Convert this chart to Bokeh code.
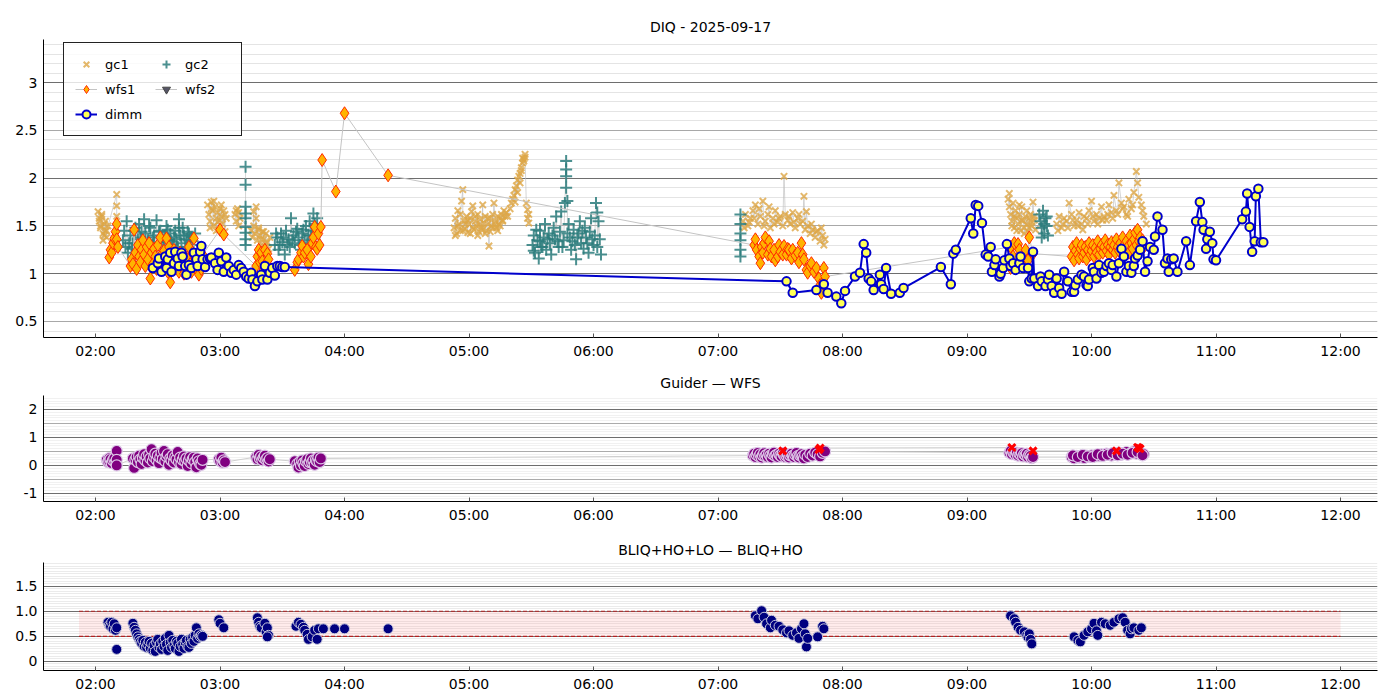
import numpy as np
from bokeh.plotting import figure
from bokeh.models import (Range1d, FixedTicker, DatetimeTickFormatter, CustomJSTickFormatter,
                          Grid, SingleIntervalTicker, Legend, LegendItem)
from bokeh.layouts import column
from bokeh.embed import file_html
from bokeh.resources import INLINE

DATE = "2025-09-17"
FONT = "DejaVu Sans"

# ---------------- DIQ (top) : times in hours UT, values in arcsec ----------------
gc1_t = [2.02,2.03,2.04,2.05,2.06,2.07,2.08,2.09,2.10,2.03,2.05,2.07,2.09,2.04,2.06,2.08,2.17,2.17,2.17,
         2.90,2.91,2.92,2.93,2.94,2.95,2.96,2.97,2.98,2.99,3.00,3.01,3.02,3.03,3.04,3.05,2.92,2.95,2.98,3.01,3.04,2.93,2.97,3.00,
         3.12,3.13,3.14,3.15,3.16,3.13,3.15,
         3.25,3.26,3.27,3.28,3.29,3.30,3.31,3.32,3.33,3.34,3.35,3.36,3.37,3.38,3.39,3.40,3.27,3.29,3.31,3.33,3.35,3.37,
         4.88,4.89,4.90,4.91,4.92,4.93,4.94,4.95,4.96,4.97,4.98,4.99,5.00,5.01,5.02,5.03,5.04,5.05,5.06,5.07,
         5.08,5.09,5.10,5.11,5.12,5.13,5.14,5.15,5.16,5.17,5.18,5.19,5.20,5.21,5.22,5.23,5.24,5.25,5.26,5.27,5.28,5.29,
         4.89,4.91,4.93,4.95,4.97,4.99,5.01,5.03,5.05,5.07,5.09,5.11,5.13,5.15,5.17,5.19,5.21,5.23,5.25,5.27,
         5.30,5.31,5.33,5.34,5.35,5.36,5.37,5.37,5.38,5.39,5.39,5.40,5.41,5.41,5.42,5.42,5.43,5.43,5.44,5.44,5.45,5.45,
         5.46,5.47,5.47,5.48,5.48,
         7.20,7.22,7.24,7.26,7.28,7.30,7.32,7.34,7.36,7.38,7.40,7.42,7.44,7.46,7.48,7.50,7.52,7.54,7.56,7.58,
         7.60,7.62,7.64,7.66,7.68,7.70,7.72,7.74,7.76,7.78,7.80,7.82,7.84,7.86,
         7.21,7.25,7.29,7.33,7.37,7.41,7.45,7.49,7.53,7.57,7.61,7.65,7.69,7.71,7.75,7.79,7.83,7.85,
         9.33,9.34,9.35,9.36,9.37,9.38,9.39,9.40,9.41,9.42,9.43,9.44,9.45,9.46,9.47,9.48,9.49,9.50,9.51,9.52,9.53,9.54,9.55,
         9.34,9.36,9.38,9.40,9.42,9.44,9.46,9.48,9.50,9.52,9.54,
         9.72,9.74,9.76,9.78,9.80,9.82,9.84,9.86,9.88,9.90,9.92,9.94,9.96,9.98,10.00,10.02,10.04,10.06,10.08,10.10,
         10.12,10.14,10.16,10.18,10.20,10.22,10.24,10.26,10.28,10.30,10.32,10.34,10.36,10.38,10.40,10.42,10.44,
         9.73,9.77,9.81,9.85,9.89,9.93,9.97,10.01,10.05,10.09,10.13,10.17,10.21,10.25,10.29,10.33,10.37,10.41]
gc1_v = [1.65,1.55,1.48,1.60,1.42,1.52,1.45,1.38,1.50,1.58,1.62,1.40,1.45,1.50,1.35,1.55,1.83,1.71,1.60,
         1.72,1.62,1.55,1.75,1.66,1.50,1.70,1.58,1.64,1.46,1.68,1.60,1.52,1.66,1.44,1.58,1.48,1.76,1.54,1.72,1.62,1.68,1.45,1.56,
         1.62,1.55,1.68,1.50,1.58,1.66,1.64,
         1.45,1.38,1.65,1.42,1.70,1.35,1.48,1.40,1.30,1.44,1.36,1.28,1.42,1.33,1.26,1.38,1.50,1.58,1.46,1.36,1.44,1.32,
         1.48,1.58,1.42,1.66,1.52,1.45,1.76,1.88,1.55,1.47,1.60,1.43,1.52,1.58,1.65,1.71,1.46,1.55,1.50,1.62,
         1.44,1.57,1.48,1.72,1.53,1.60,1.45,1.52,1.29,1.58,1.50,1.62,1.74,1.55,1.48,1.60,1.52,1.58,1.62,1.55,1.66,1.60,
         1.40,1.50,1.62,1.45,1.52,1.56,1.42,1.48,1.60,1.40,1.52,1.46,1.42,1.58,1.44,1.48,1.52,1.45,1.50,1.56,
         1.64,1.60,1.68,1.74,1.78,1.82,1.88,1.75,1.92,1.98,1.85,2.02,2.05,1.95,2.08,2.11,2.16,2.21,2.18,2.20,2.25,2.22,
         1.74,1.67,1.58,1.53,1.62,
         1.55,1.62,1.50,1.58,1.66,1.72,1.52,1.60,1.76,1.55,1.62,1.48,1.58,1.66,1.54,1.60,1.50,1.62,1.56,1.52,
         1.64,1.48,1.58,1.52,1.55,1.46,1.50,1.42,1.46,1.38,1.45,1.34,1.40,1.36,
         1.48,1.54,1.58,1.68,1.50,1.70,1.52,1.58,2.02,1.60,1.54,1.62,1.81,1.65,1.52,1.44,1.48,1.30,
         1.78,1.70,1.62,1.55,1.74,1.48,1.66,1.58,1.52,1.62,1.45,1.70,1.55,1.48,1.60,1.52,1.44,1.58,1.62,1.50,1.75,1.56,1.46,
         1.84,1.50,1.60,1.45,1.72,1.56,1.42,1.66,1.48,1.54,1.60,
         1.52,1.60,1.48,1.58,1.55,1.74,1.62,1.50,1.56,1.64,1.52,1.60,1.58,1.66,1.76,1.55,1.62,1.58,1.70,1.60,
         1.56,1.72,1.64,1.82,1.66,1.95,1.74,1.70,1.62,1.78,1.68,1.85,2.07,1.80,1.72,1.60,1.52,
         1.45,1.52,1.48,1.56,1.50,1.46,1.52,1.60,1.52,1.56,1.62,1.58,1.62,1.68,1.60,1.72,1.95,1.66]

gc2_t = [2.22,2.24,2.25,2.26,2.28,2.30,2.31,2.33,2.35,2.36,2.38,2.39,2.40,2.42,2.44,2.45,2.47,2.49,2.50,2.52,
         2.54,2.55,2.57,2.59,2.60,2.62,2.64,2.65,2.67,2.67,2.69,2.71,2.72,2.74,2.76,2.77,2.79,2.80,
         2.23,2.27,2.29,2.32,2.34,2.37,2.41,2.43,2.46,2.48,2.51,2.53,2.56,2.58,2.61,2.63,2.66,2.68,2.70,2.73,2.75,2.78,
         3.205,3.205,3.205,3.205,3.205,3.205,3.205,3.205,3.205,
         3.44,3.46,3.47,3.49,3.50,3.52,3.53,3.55,3.56,3.57,3.59,3.60,3.62,3.63,3.65,3.66,3.68,3.69,3.71,3.72,
         3.74,3.75,3.77,3.78,
         3.45,3.48,3.51,3.54,3.58,3.61,3.64,3.67,3.70,3.73,3.76,
         5.51,5.52,5.53,5.55,5.56,5.57,5.58,5.60,5.61,5.62,5.64,5.65,5.66,5.68,5.69,5.70,5.72,5.73,5.74,5.76,
         5.77,5.78,5.78,5.78,5.78,5.79,5.80,5.81,5.82,5.84,5.85,5.86,5.88,5.89,5.90,5.92,5.93,5.94,5.96,5.97,
         5.98,6.00,6.01,6.02,6.03,6.04,6.05,6.06,
         5.52,5.54,5.57,5.59,5.63,5.67,5.71,5.75,5.79,5.83,5.87,5.91,5.95,5.99,6.03,
         7.18,7.18,7.18,7.18,7.18,7.18,
         9.58,9.59,9.60,9.61,9.62,9.63,9.64,9.65,9.60,9.62,9.64]
gc2_v = [1.35,1.28,1.55,1.22,1.40,1.32,1.45,1.25,1.52,1.38,1.30,1.57,1.42,1.35,1.48,1.28,1.40,1.56,1.33,1.45,
         1.38,1.27,1.50,1.35,1.42,1.30,1.45,1.36,1.57,1.48,1.32,1.40,1.28,1.44,1.35,1.38,1.30,1.42,
         1.45,1.32,1.26,1.48,1.36,1.44,1.30,1.50,1.38,1.26,1.44,1.30,1.40,1.46,1.34,1.38,1.28,1.40,1.48,1.36,1.42,1.34,
         2.12,1.93,1.70,1.63,1.58,1.49,1.43,1.36,1.30,
         1.30,1.38,1.25,1.42,1.33,1.20,1.45,1.36,1.28,1.58,1.40,1.32,1.47,1.38,1.25,1.42,1.35,1.50,1.40,1.55,
         1.45,1.63,1.48,1.58,
         1.42,1.30,1.38,1.30,1.35,1.44,1.30,1.46,1.32,1.40,1.52,
         1.30,1.40,1.22,1.35,1.16,1.45,1.28,1.38,1.52,1.25,1.42,1.32,1.20,1.48,1.36,1.60,1.28,1.44,1.65,1.35,
         1.74,2.18,2.09,2.02,1.90,1.76,1.52,1.38,1.25,1.46,1.30,1.15,1.42,1.55,1.32,1.26,1.48,1.38,1.22,1.44,
         1.58,1.30,1.40,1.74,1.64,1.55,1.36,1.20,
         1.24,1.46,1.34,1.28,1.36,1.40,1.34,1.28,1.42,1.34,1.38,1.45,1.32,1.36,1.28,
         1.62,1.52,1.42,1.35,1.25,1.18,
         1.62,1.55,1.48,1.66,1.42,1.58,1.50,1.40,1.38,1.52,1.60]

wfs1_t = [2.11,2.12,2.13,2.14,2.15,2.16,2.17,2.17,2.18,
          2.28,2.29,2.30,2.31,2.32,2.33,2.34,2.35,2.36,2.37,2.38,2.39,2.40,2.41,2.42,2.43,2.44,2.45,2.46,2.47,
          2.48,2.49,2.50,2.51,2.52,2.53,2.54,2.55,2.56,2.57,2.58,2.59,2.60,2.61,2.62,2.63,2.64,2.65,2.66,2.67,
          2.68,2.69,2.70,2.71,2.72,2.73,2.74,2.75,2.76,2.77,2.78,2.79,2.80,2.81,2.82,2.83,2.84,2.85,2.86,
          3.00,3.03,
          3.29,3.30,3.31,3.32,3.33,3.34,3.35,3.36,3.37,3.38,3.39,3.40,
          3.60,3.62,3.63,3.65,3.66,3.67,3.68,3.70,3.71,3.73,3.74,3.75,3.76,3.77,3.78,3.79,3.80,3.81,
          3.82,3.93,4.00,4.35,
          7.29,7.30,7.31,7.33,7.34,7.35,7.36,7.37,7.38,7.40,7.41,7.42,7.43,7.45,7.46,7.48,7.49,7.50,7.52,7.53,
          7.55,7.56,7.57,7.59,7.60,7.62,7.64,7.65,7.67,7.68,7.69,7.71,7.72,7.74,7.75,7.77,7.79,7.81,7.82,7.83,
          7.84,7.85,7.86,
          9.35,9.35,9.37,9.38,9.39,9.41,9.42,9.44,9.45,9.46,9.47,9.49,9.50,9.53,
          9.84,9.85,9.86,9.87,9.88,9.89,9.90,9.91,9.92,9.93,9.94,9.95,9.96,9.97,9.98,9.99,10.00,10.01,10.02,10.03,
          10.04,10.05,10.06,10.07,10.08,10.09,10.10,10.11,10.12,10.13,10.14,10.15,10.16,10.17,10.18,10.19,10.20,
          10.21,10.22,10.23,10.24,10.25,10.26,10.27,10.28,10.29,10.30,10.31,10.32,10.33,10.34,10.35,10.36,10.37,
          10.38,10.39,10.40,10.41,10.42]
wfs1_v = [1.17,1.25,1.22,1.32,1.37,1.44,1.52,1.36,1.28,
          1.08,1.15,1.10,1.46,1.22,1.05,1.30,1.18,1.12,1.25,1.35,1.20,1.08,1.28,1.15,1.32,0.95,1.22,1.10,1.26,
          1.18,1.05,1.30,1.12,1.38,1.20,1.08,1.24,1.15,1.37,1.02,1.28,0.91,1.18,1.10,1.25,1.06,1.20,1.14,1.02,
          1.22,1.08,1.12,1.00,1.18,1.05,1.15,1.28,1.10,1.02,1.22,1.37,1.08,1.15,1.03,0.99,1.12,1.05,1.20,
          1.46,1.41,
          1.08,1.18,1.25,1.12,1.22,1.13,1.04,1.25,1.11,1.21,1.15,1.02,
          1.04,1.12,1.15,1.22,1.29,1.18,1.22,1.25,1.10,1.18,1.32,1.38,1.49,1.28,1.26,1.42,1.30,1.49,
          2.19,1.86,2.68,2.03,
          1.30,1.36,1.25,1.18,1.11,1.28,1.22,1.32,1.38,1.20,1.34,1.26,1.18,1.25,1.14,1.18,1.30,1.23,1.20,1.29,
          1.20,1.26,1.25,1.16,1.25,1.19,1.22,1.12,1.32,1.20,1.15,1.04,1.01,1.08,1.11,1.02,1.06,0.95,0.88,0.80,
          0.90,1.06,0.97,
          1.28,1.06,1.18,1.32,1.08,1.31,1.25,1.15,1.18,1.11,1.25,1.14,1.38,1.21,
          1.18,1.28,1.14,1.24,1.32,1.20,1.16,1.26,1.30,1.18,1.22,1.28,1.15,1.25,1.32,1.20,1.24,1.30,1.18,1.27,
          1.22,1.34,1.20,1.26,1.30,1.22,1.28,1.35,1.24,1.30,1.20,1.28,1.33,1.25,1.30,1.22,1.36,
          1.28,1.24,1.32,1.26,1.38,1.30,1.25,1.34,1.28,1.22,1.40,1.32,1.26,1.36,1.43,1.30,1.46,
          1.34,1.38,1.30,1.35,1.28]

# wfs2 has no valid measurement this night (legend entry only)
wfs2_t = [2.0]
wfs2_v = [float("nan")]

dimm_t = [2.46,2.50,2.51,2.53,2.56,2.57,2.58,2.60,2.61,2.63,2.64,2.66,2.67,2.69,2.70,2.72,2.73,2.75,2.77,2.79,
          2.81,2.82,2.84,2.85,2.86,2.88,2.90,2.92,2.93,2.96,2.98,2.99,3.01,3.03,3.05,3.07,3.09,3.11,3.13,3.15,
          3.17,3.19,3.21,3.23,3.25,3.26,3.28,3.30,3.33,3.34,3.36,3.38,3.40,3.42,3.44,3.46,3.48,3.50,3.52,
          7.55,7.60,7.79,7.85,7.88,7.95,7.99,8.02,8.10,8.14,8.17,8.19,8.21,8.23,8.25,8.30,8.31,8.33,8.35,8.39,
          8.46,8.49,8.79,8.87,8.89,8.91,
          9.03,9.05,9.07,9.09,9.12,9.15,9.17,9.19,9.20,9.22,9.23,9.26,9.27,9.29,9.30,9.32,9.34,9.35,9.37,9.39,
          9.42,9.43,9.45,9.49,9.50,9.52,9.53,9.54,9.57,9.59,9.60,9.63,9.65,9.66,9.68,9.70,9.72,9.74,9.76,9.78,
          9.81,9.84,9.86,9.87,9.89,9.92,9.94,9.96,9.97,9.98,10.01,10.02,10.04,10.06,10.08,10.10,10.12,10.14,10.16,10.17,
          10.20,10.22,10.24,10.26,10.28,10.30,10.32,10.34,10.35,10.37,10.39,10.41,10.43,10.45,10.47,10.50,10.51,10.53,
          10.57,10.59,10.61,10.62,10.64,10.66,10.69,10.76,10.79,
          10.84,10.87,10.89,10.90,10.92,10.93,10.95,10.97,10.98,11.00,
          11.21,11.24,11.25,11.27,11.29,11.31,11.32,11.34,11.36,11.38]
dimm_v = [1.06,1.11,1.16,1.02,1.18,1.06,1.15,1.22,1.02,1.11,1.23,1.16,1.08,1.22,1.18,1.08,0.99,1.09,1.06,1.22,
          1.15,1.08,1.23,1.29,1.15,1.07,1.15,1.16,1.17,1.11,1.04,1.22,1.13,1.02,1.17,1.08,1.01,1.04,0.99,1.09,
          1.06,1.02,0.97,0.95,1.01,0.94,0.87,0.92,0.99,0.94,1.08,0.94,1.01,1.06,0.98,1.08,1.08,1.07,1.07,
          0.92,0.80,0.83,0.89,0.80,0.76,0.69,0.82,0.97,1.01,1.31,1.22,0.95,0.92,0.83,0.99,0.89,0.84,1.06,0.79,
          0.80,0.85,1.07,0.89,1.21,1.25,
          1.58,1.42,1.72,1.71,1.53,1.20,1.18,1.28,1.02,1.09,1.15,0.97,1.00,1.06,1.14,1.31,1.16,1.08,1.11,1.04,
          1.11,1.18,1.06,1.06,0.92,0.95,1.23,0.95,0.87,0.97,0.92,0.87,0.94,0.99,0.87,0.80,0.95,0.85,0.79,1.02,
          0.92,0.81,0.81,0.88,0.94,0.99,0.97,0.88,0.87,0.94,1.06,1.02,0.95,1.09,1.01,1.02,1.08,1.11,1.04,1.09,
          0.97,1.11,1.26,1.18,1.02,1.08,1.01,1.08,1.16,1.19,1.25,1.34,1.02,1.13,1.28,1.25,1.39,1.60,
          1.46,1.11,1.16,1.02,1.15,1.16,1.02,1.34,1.09,
          1.55,1.75,1.54,1.46,1.26,1.36,1.44,1.32,1.15,1.14,
          1.57,1.65,1.84,1.49,1.23,1.34,1.81,1.89,1.33,1.33]

# ---------------- Guider - WFS (middle) ----------------
gw_t = [2.09,2.10,2.11,2.11,2.12,2.13,2.14,2.15,2.16,2.17,2.17,2.17,
        2.30,2.31,2.32,2.33,2.34,2.35,2.36,2.37,2.38,2.39,2.40,2.41,2.42,2.43,2.44,2.45,2.46,2.47,2.48,2.49,
        2.50,2.51,2.52,2.53,2.54,2.55,2.56,2.57,2.58,2.59,2.60,2.61,2.62,2.63,2.64,2.65,2.66,2.67,2.68,2.69,
        2.70,2.71,2.72,2.73,2.74,2.75,2.76,2.77,2.78,2.79,2.80,2.81,2.82,2.83,2.84,2.85,2.86,
        2.99,3.00,3.01,3.02,3.03,3.04,
        3.29,3.30,3.31,3.32,3.33,3.34,3.35,3.36,3.37,3.38,3.39,3.40,
        3.60,3.62,3.63,3.64,3.65,3.66,3.67,3.68,3.69,3.70,3.71,3.72,3.73,3.74,3.75,3.76,3.77,3.78,3.79,3.80,3.81,
        7.28,7.29,7.30,7.31,7.32,7.33,7.34,7.35,7.36,7.37,7.38,7.39,7.40,7.41,7.42,7.43,7.44,7.45,7.46,7.47,
        7.48,7.49,7.50,7.51,7.52,7.53,7.54,7.55,7.56,7.57,7.58,7.59,7.60,7.61,7.62,7.63,7.64,7.65,7.66,7.67,
        7.68,7.69,7.70,7.72,7.74,7.76,7.78,7.80,7.82,7.84,7.86,
        9.34,9.35,9.36,9.37,9.38,9.39,9.40,9.41,9.42,9.43,9.44,9.45,9.46,9.47,9.48,9.49,9.50,9.51,9.52,9.53,
        9.84,9.86,9.88,9.90,9.92,9.94,9.96,9.98,10.00,10.02,10.04,10.06,10.08,10.10,10.12,10.14,10.16,10.18,10.20,10.22,
        10.24,10.26,10.28,10.30,10.32,10.34,10.36,10.38,10.40,10.42,
        9.85,9.89,9.93,9.97,10.01,10.05,10.09,10.13,10.17,10.21,10.25,10.29,10.33,10.37,10.41]
gw_v = [0.20,0.12,0.26,0.15,0.22,0.08,0.18,0.25,0.10,0.52,0.20,0.00,
        0.25,-0.09,0.20,0.30,0.12,0.35,0.22,0.05,0.28,0.40,0.18,0.32,0.10,0.38,0.25,0.58,0.15,0.30,0.42,0.20,
        0.35,0.08,0.28,0.45,0.22,0.52,0.15,0.32,0.40,0.02,0.25,0.18,0.35,0.10,0.30,0.22,0.48,0.12,0.28,0.05,
        0.20,0.32,0.15,0.25,-0.02,0.18,0.30,0.08,0.22,0.28,0.12,-0.07,0.25,0.15,0.05,0.02,0.20,
        0.22,0.15,0.28,0.10,0.18,0.12,
        0.30,0.22,0.38,0.25,0.32,0.18,0.28,0.35,0.20,0.26,0.14,0.22,
        0.15,0.05,-0.08,0.12,0.00,0.18,0.08,-0.02,0.15,0.22,0.05,0.12,0.25,0.10,0.18,0.02,0.20,0.15,0.28,0.12,0.25,
        0.35,0.42,0.30,0.38,0.45,0.32,0.40,0.28,0.36,0.44,0.33,0.38,0.30,0.42,0.35,0.28,0.40,0.46,0.34,0.38,
        0.30,0.42,0.36,0.32,0.44,0.38,0.30,0.35,0.40,0.28,0.36,0.42,0.34,0.30,0.38,0.45,0.33,0.28,0.36,0.40,
        0.32,0.25,0.38,0.30,0.42,0.35,0.46,0.40,0.32,0.45,0.50,
        0.45,0.52,0.40,0.48,0.42,0.38,0.46,0.35,0.42,0.38,0.44,0.32,0.40,0.36,0.42,0.30,0.38,0.34,0.26,0.30,
        0.30,0.25,0.34,0.28,0.32,0.26,0.35,0.30,0.36,0.32,0.38,0.34,0.40,0.36,0.42,0.38,0.35,0.44,0.40,0.46,
        0.38,0.42,0.48,0.40,0.44,0.50,0.42,0.46,0.44,0.40,
        0.36,0.30,0.38,0.32,0.30,0.40,0.34,0.38,0.44,0.36,0.42,0.38,0.45,0.48,0.36]
gw_flag_t = [7.52,7.81,7.82,9.36,9.53,10.20,10.37,10.38,10.39]
gw_flag_v = [0.52,0.56,0.62,0.64,0.52,0.52,0.65,0.62,0.60]

# ---------------- BLIQ+HO+LO - BLIQ+HO (bottom) ----------------
bl_t = [2.10,2.11,2.12,2.13,2.14,2.15,2.16,2.17,2.17,
        2.30,2.31,2.32,2.33,2.34,2.35,2.36,2.37,2.38,2.39,2.40,2.41,2.42,2.43,2.44,2.45,2.46,2.47,2.48,2.49,
        2.50,2.51,2.52,2.53,2.54,2.55,2.56,2.57,2.58,2.59,2.60,2.61,2.62,2.63,2.64,2.65,2.66,2.67,2.68,2.69,
        2.70,2.71,2.72,2.73,2.74,2.75,2.76,2.77,2.78,2.79,2.80,2.81,2.82,2.83,2.84,2.85,2.86,
        2.99,3.00,3.03,
        3.30,3.31,3.32,3.33,3.36,3.37,3.38,3.39,3.38,
        3.61,3.63,3.65,3.67,3.68,3.70,3.71,3.74,3.76,3.78,3.79,
        3.83,3.92,4.00,4.35,
        7.30,7.32,7.35,7.37,7.39,7.42,7.43,7.46,7.49,7.52,7.55,7.57,7.60,7.63,7.65,7.67,7.69,7.70,7.71,7.72,
        7.80,7.84,7.85,
        9.35,9.38,9.39,9.41,9.43,9.46,9.48,9.49,9.50,9.51,9.52,
        9.86,9.89,9.91,9.94,9.97,10.00,10.02,10.04,10.05,10.08,10.11,10.15,10.18,10.22,10.25,10.27,10.29,10.31,
        10.32,10.34,10.38,10.40]
bl_v = [0.78,0.72,0.70,0.78,0.65,0.75,0.62,0.67,0.24,
        0.76,0.68,0.62,0.55,0.49,0.44,0.40,0.36,0.42,0.30,0.38,0.28,0.34,0.40,0.26,0.36,0.22,0.32,0.20,0.38,
        0.44,0.28,0.35,0.24,0.40,0.30,0.46,0.34,0.22,0.52,0.38,0.28,0.42,0.32,0.26,0.40,0.36,0.20,0.30,0.44,
        0.34,0.26,0.38,0.42,0.30,0.28,0.44,0.36,0.48,0.40,0.52,0.67,0.46,0.55,0.50,0.52,0.50,
        0.83,0.76,0.67,
        0.87,0.78,0.70,0.67,0.76,0.59,0.67,0.52,0.49,
        0.70,0.78,0.74,0.68,0.62,0.54,0.44,0.49,0.62,0.44,0.65,
        0.65,0.65,0.65,0.65,
        0.91,0.85,1.01,0.88,0.75,0.67,0.82,0.72,0.70,0.63,0.57,0.61,0.52,0.57,0.46,0.65,0.75,0.55,0.29,0.46,
        0.49,0.70,0.65,
        0.91,0.85,0.78,0.68,0.62,0.59,0.52,0.48,0.55,0.44,0.35,
        0.49,0.42,0.39,0.52,0.59,0.65,0.76,0.61,0.52,0.78,0.75,0.72,0.78,0.85,0.87,0.78,0.62,0.55,
        0.65,0.67,0.62,0.67]
band_t = [1.867, 12.0]
band_lo = [0.5, 0.5]
band_hi = [1.0, 1.0]

hour_ticks = [2, 3, 4, 5, 6, 7, 8, 9, 10, 11, 12]
x_span = [1.582, 12.297]

# ---------------- helpers ----------------
BASE = np.datetime64(DATE + "T00:00:00", "ms")


def dt(hours):
    h = np.asarray(hours, dtype=float)
    return BASE + np.round(h * 3600000.0).astype("int64").astype("timedelta64[ms]")


def ms(hours):
    return [float(v) for v in dt(hours).astype("int64")]


def sort_xy(t, v):
    t = np.asarray(t, dtype=float)
    v = np.asarray(v, dtype=float)
    o = np.argsort(t, kind="stable")
    return t[o], v[o]


def broken(t, v, gap):
    t, v = sort_xy(t, v)
    tt, vv = [], []
    for i in range(len(t)):
        if i and t[i] - t[i - 1] > gap:
            tt.append(t[i - 1])
            vv.append(np.nan)
        tt.append(t[i])
        vv.append(v[i])
    return np.array(tt), np.array(vv)


def make_fig(title, height, y0, y1, top, bottom):
    p = figure(width=1391, height=height, x_axis_type="datetime",
               x_range=Range1d(*ms(x_span)), y_range=Range1d(y0, y1),
               output_backend="svg", toolbar_location=None,
               min_border_left=43, min_border_right=14, min_border_top=top, min_border_bottom=bottom)
    p.title.text = title
    p.title.align = "center"
    p.title.text_font = FONT
    p.title.text_font_size = "14px"
    p.title.text_font_style = "normal"
    p.title.text_color = "black"
    p.title.standoff = 10
    p.outline_line_color = None
    p.background_fill_color = "white"
    p.border_fill_color = "white"
    p.xgrid.visible = False
    p.ygrid.visible = False
    p.xaxis.ticker = FixedTicker(ticks=ms(hour_ticks))
    p.xaxis.formatter = DatetimeTickFormatter(hours="%H:%M", hourmin="%H:%M", minutes="%H:%M",
                                              days="%H:%M", minsec="%H:%M")
    for ax in (p.xaxis[0], p.yaxis[0]):
        ax.axis_line_color = "black"
        ax.axis_line_width = 1
        ax.major_label_text_font = FONT
        ax.major_label_text_font_size = "14px"
        ax.major_label_text_color = "black"
        ax.minor_tick_line_color = None
        ax.major_label_standoff = 5
    p.xaxis.major_tick_in = 4
    p.xaxis.major_tick_out = 0
    p.xaxis.major_tick_line_color = "#555555"
    p.yaxis.major_tick_in = 0
    p.yaxis.major_tick_out = 0
    p.yaxis.major_label_standoff = 6
    return p


def add_grids(p, specs):
    for interval, color in specs:
        g = Grid(dimension=1, ticker=SingleIntervalTicker(interval=interval, num_minor_ticks=0),
                 grid_line_color=color, grid_line_width=1)
        p.add_layout(g)


# ---------------- top figure ----------------
p1 = make_fig("DIQ - 2025-09-17", 363, 0.332, 3.452, 39, 26)
add_grids(p1, [(0.1, "#E4E4E4"), (0.5, "#A8A8A8"), (1.0, "#6E6E6E")])
p1.yaxis.ticker = SingleIntervalTicker(interval=0.5, num_minor_ticks=0)
p1.yaxis.formatter = CustomJSTickFormatter(code="return Number.isInteger(tick) ? tick.toFixed(0) : tick.toFixed(1);")

t, v = broken(gc1_t, gc1_v, 0.2)
p1.line(dt(t), v, line_color="#BDBDBD", line_width=0.8, line_alpha=0.8)
t, v = broken(gc2_t, gc2_v, 0.2)
p1.line(dt(t), v, line_color="#BDBDBD", line_width=0.8, line_alpha=0.8)
r_gc1 = p1.scatter(dt(gc1_t), gc1_v, marker="x", size=9, line_color="#DDA646", line_width=2, line_alpha=0.8)
r_gc2 = p1.scatter(dt(gc2_t), gc2_v, marker="cross", size=12, line_color="#2C7D7D", line_width=2, line_alpha=0.85)

t, v = sort_xy(wfs1_t, wfs1_v)
r_wl = p1.line(dt(t), v, line_color="#C4C4C4", line_width=1)
r_w = p1.scatter(dt(wfs1_t), wfs1_v, marker="diamond", size=13, fill_color="#FFB300",
                 line_color="#FF2A00", line_width=1)

r_w2l = p1.line(dt(wfs2_t), wfs2_v, line_color="#C4C4C4", line_width=1)
r_w2 = p1.scatter(dt(wfs2_t), wfs2_v, marker="inverted_triangle", size=10, fill_color="#555566",
                  line_color="#444444", line_width=1)

t, v = sort_xy(dimm_t, dimm_v)
r_dl = p1.line(dt(t), v, line_color="#0000CC", line_width=2)
r_d = p1.scatter(dt(dimm_t), dimm_v, marker="circle", size=8.5, fill_color="#FFFF55",
                 line_color="#0000CC", line_width=2)

legend = Legend(items=[LegendItem(label="gc1", renderers=[r_gc1]),
                       LegendItem(label="gc2", renderers=[r_gc2]),
                       LegendItem(label="wfs1", renderers=[r_wl, r_w]),
                       LegendItem(label="wfs2", renderers=[r_w2l, r_w2]),
                       LegendItem(label="dimm", renderers=[r_dl, r_d])],
                location=(20, 201), orientation="horizontal", ncols=2,
                padding=11, spacing=5, glyph_width=22, glyph_height=20, label_height=20,
                label_width=45, label_standoff=8, label_text_font=FONT, label_text_font_size="13px",
                label_text_color="black",
                border_line_color="#222222", border_line_width=1, border_line_alpha=1,
                background_fill_color="white", background_fill_alpha=0.8)
p1.add_layout(legend)

# ---------------- middle figure ----------------
p2 = make_fig("Guider \u2014 WFS", 165, -1.29, 2.5, 32, 27)
add_grids(p2, [(0.1, "#F1F1F1"), (0.5, "#ABABAB"), (1.0, "#6E6E6E")])
p2.yaxis.ticker = SingleIntervalTicker(interval=1, num_minor_ticks=0)
p2.yaxis.formatter = CustomJSTickFormatter(code="return tick.toFixed(0);")
t, v = sort_xy(gw_t, gw_v)
p2.line(dt(t), v, line_color="#CFCFCF", line_width=1)
t, v = sort_xy(gw_flag_t, gw_flag_v)
p2.line(dt(t), v, line_color="#CFCFCF", line_width=1)
p2.scatter(dt(gw_t), gw_v, marker="circle", size=11, fill_color="#800080",
           line_color="#DCC6E6", line_width=1.2)
p2.scatter(dt(gw_flag_t), gw_flag_v, marker="x", size=10, line_color="#FF0000", line_width=3)

# ---------------- bottom figure ----------------
p3 = make_fig("BLIQ+HO+LO \u2014 BLIQ+HO", 166, -0.18, 1.97, 34, 23)
add_grids(p3, [(0.05, "#EBEBEB"), (0.5, "#6E6E6E")])
p3.yaxis.ticker = SingleIntervalTicker(interval=0.5, num_minor_ticks=0)
p3.yaxis.formatter = CustomJSTickFormatter(code="return Math.abs(tick) < 1e-9 ? '0' : tick.toFixed(1);")
p3.varea(x=dt(band_t), y1=band_lo, y2=band_hi, fill_color="#FF8080", fill_alpha=0.16)
p3.line(dt(band_t), band_lo, line_color="#B22222", line_width=1.2, line_dash="4 2")
p3.line(dt(band_t), band_hi, line_color="#B22222", line_width=1.2, line_dash="4 2")
p3.scatter(dt(bl_t), bl_v, marker="circle", size=10, fill_color="#000080",
           line_color="#C8C8DC", line_width=1)

layout = column(p1, p2, p3)
open("out.html", "w").write(file_html(layout, INLINE))
